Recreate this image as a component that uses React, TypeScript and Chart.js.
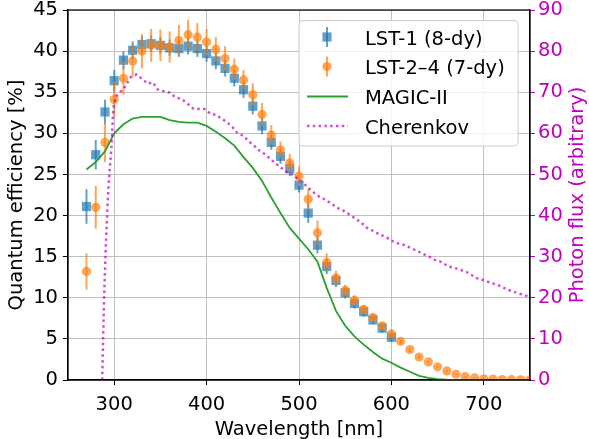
import React, { useEffect, useRef } from "react";
import { Chart, registerables } from "chart.js";
Chart.register(...registerables);

// ---------------- data ----------------
const SERIES_LABELS = ["LST-1 (8-dy)", "LST-2\u20134 (7-dy)", "MAGIC-II", "Cherenkov"];
const X_TICKS = [300, 400, 500, 600, 700];
const X_TITLE = "Wavelength [nm]";
const Y_TITLE = "Quantum efficiency [%]";
const Y1_TITLE = "Photon flux (arbitrary)";

const LST1_WL = [270, 280, 290, 300, 310, 320, 330, 340, 350, 360, 370, 380, 390, 400, 410, 420, 430, 440, 450, 460, 470, 480, 490, 500, 510, 520, 530, 540, 550, 560, 570, 580, 590, 600];
const LST1_QE = [21.1, 27.4, 32.6, 36.4, 38.9, 40.1, 40.8, 40.9, 40.7, 40.4, 40.3, 40.6, 40.3, 39.7, 38.8, 37.9, 36.7, 35.3, 33.3, 30.9, 28.9, 27.2, 25.7, 23.7, 20.3, 16.4, 13.8, 12.1, 10.6, 9.3, 8.3, 7.3, 6.3, 5.2];
const LST1_ERR = [2.1, 1.8, 1.5, 1.3, 1.1, 1.1, 1.0, 1.0, 1.0, 1.0, 1.0, 1.0, 1.0, 1.0, 1.0, 1.0, 1.0, 1.0, 1.0, 1.0, 0.9, 0.9, 0.9, 0.9, 1.2, 1.0, 0.9, 0.8, 0.7, 0.6, 0.6, 0.5, 0.5, 0.5];

const LST24_WL = [270, 280, 290, 300, 310, 320, 330, 340, 350, 360, 370, 380, 390, 400, 410, 420, 430, 440, 450, 460, 470, 480, 490, 500, 510, 520, 530, 540, 550, 560, 570, 580, 590, 600, 610, 620, 630, 640, 650, 660, 670, 680, 690, 700, 710, 720, 730, 740, 750];
const LST24_QE = [13.2, 21.0, 28.9, 34.1, 36.7, 38.8, 40.0, 40.7, 40.7, 40.5, 41.3, 42.0, 41.7, 41.1, 40.2, 39.1, 37.8, 36.5, 34.7, 32.3, 29.8, 28.0, 26.4, 24.8, 22.0, 17.9, 14.3, 12.4, 10.9, 9.7, 8.6, 7.6, 6.6, 5.6, 4.7, 3.7, 2.8, 2.2, 1.6, 1.1, 0.7, 0.4, 0.25, 0.15, 0.1, 0.06, 0.04, 0.03, 0.02];
const LST24_ERR = [2.2, 2.6, 2.4, 2.2, 2.0, 2.0, 2.1, 2.0, 1.9, 1.9, 1.9, 1.8, 1.7, 1.6, 1.5, 1.5, 1.3, 1.2, 1.4, 1.4, 1.2, 1.0, 1.1, 1.2, 1.3, 1.5, 1.1, 0.9, 0.7, 0.6, 0.5, 0.5, 0.4, 0.4, 0.3, 0.3, 0.25, 0.2, 0.2, 0.15, 0.1, 0.1, 0.05, 0.05, 0.0, 0.0, 0.0, 0.0, 0.0];

const MAGIC_WL = [270, 280, 290, 300, 310, 320, 330, 340, 350, 360, 370, 380, 390, 400, 410, 420, 430, 440, 450, 460, 470, 480, 490, 500, 510, 520, 530, 540, 550, 560, 570, 580, 590, 600, 610, 620, 630, 640, 650, 660, 670, 680, 690, 700];
const MAGIC_QE = [25.6, 26.5, 27.8, 30.0, 31.1, 31.8, 32.0, 32.0, 32.0, 31.6, 31.4, 31.3, 31.3, 30.9, 30.2, 29.4, 28.5, 27.1, 25.8, 24.2, 22.2, 20.3, 18.5, 17.2, 15.9, 14.4, 11.2, 8.4, 6.6, 5.3, 4.3, 3.4, 2.6, 2.1, 1.5, 1.0, 0.5, 0.25, 0.1, 0.04, 0.01, 0.0, 0.0, 0.0];

const CHER_WL = [287, 289, 291, 293, 295, 297, 299, 302, 306, 310, 318, 324, 330, 336, 342, 347, 353, 360, 366, 373, 379, 385, 392, 398, 404, 410, 416, 422, 428, 433, 440, 445, 451, 456, 462, 468, 474, 479, 486, 492, 498, 504, 510, 516, 522, 529, 535, 542, 548, 555, 561, 567, 573, 580, 587, 593, 600, 606, 613, 619, 627, 634, 641, 647, 653, 662, 671, 682, 692, 698, 707, 716, 727, 737, 746, 750];
const CHER_FLUX = [0, 19.5, 33, 43.8, 51, 56.5, 66, 69, 70, 70.7, 73.7, 74.3, 73.3, 72.1, 72.4, 70.7, 70.3, 69.9, 68.8, 68.3, 67.3, 66.1, 65.9, 65.9, 64.8, 64.5, 63.6, 62.7, 61.5, 60.2, 59.3, 58.2, 57.1, 56.0, 55.1, 54.0, 52.8, 51.9, 50.7, 50.1, 49.1, 48.0, 46.8, 45.6, 44.6, 43.8, 42.9, 41.8, 41.2, 40.2, 39.2, 38.4, 37.1, 36.3, 35.4, 34.9, 33.9, 33.3, 32.9, 32.3, 31.5, 30.7, 30.0, 29.2, 28.8, 27.6, 27.1, 26.2, 24.8, 24.4, 23.7, 23.0, 21.9, 21.1, 20.5, 20.2];

// ---------------- styles ----------------
const FONT = "DejaVu Sans";
const FS = 19.5;
const BLUE = "rgba(31,119,180,0.7)";
const ORANGE = "rgba(255,127,14,0.7)";
const GREEN = "#2ca02c";
const MAG = "rgba(191,0,191,0.7)";
const MAG_TEXT = "#bf00bf";
const GRID = "#c0c0c0";

const zip = (xs: number[], ys: number[]) => xs.map((x, i) => ({ x, y: ys[i] }));

const ERRS: Record<number, number[]> = { 0: LST1_ERR, 1: LST24_ERR };

const errorBarPlugin = {
  id: "errbars",
  beforeDatasetDraw(chart: any, args: any) {
    const errs = ERRS[args.index];
    if (!errs) return;
    const ds = chart.data.datasets[args.index];
    const { ctx, chartArea, scales } = chart;
    ctx.save();
    ctx.beginPath();
    ctx.rect(chartArea.left, chartArea.top, chartArea.right - chartArea.left, chartArea.bottom - chartArea.top);
    ctx.clip();
    ctx.strokeStyle = ds.backgroundColor;
    ctx.lineWidth = 2;
    ds.data.forEach((p: any, i: number) => {
      const e = errs[i];
      if (!e) return;
      const x = scales.x.getPixelForValue(p.x);
      const y0 = scales.y.getPixelForValue(p.y - e);
      const y1 = scales.y.getPixelForValue(p.y + e);
      ctx.beginPath();
      ctx.moveTo(x, y0);
      ctx.lineTo(x, y1);
      ctx.stroke();
    });
    ctx.restore();
  },
};

const framePlugin = {
  id: "frame",
  afterDatasetsDraw(chart: any) {
    const { ctx, chartArea: a } = chart;
    ctx.save();
    ctx.strokeStyle = "#000";
    ctx.lineWidth = 1.2;
    ctx.strokeRect(a.left, a.top, a.right - a.left, a.bottom - a.top);
    ctx.restore();
  },
};

const rightTitlePlugin = {
  id: "rightTitle",
  afterDraw(chart: any) {
    const { ctx, chartArea: a } = chart;
    const s = chart.scales.y1;
    ctx.save();
    ctx.translate(s.right - 11, (a.top + a.bottom) / 2);
    ctx.rotate(-Math.PI / 2);
    ctx.fillStyle = MAG_TEXT;
    ctx.font = `${FS}px "${FONT}"`;
    ctx.textAlign = "center";
    ctx.textBaseline = "middle";
    ctx.fillText(Y1_TITLE, 0, 0);
    ctx.restore();
  },
};

const legendPlugin = {
  id: "customLegend",
  afterDraw(chart: any) {
    const { ctx } = chart;
    const bx = 299, by = 20.5, bw = 219, bh = 125.5, r = 4;
    ctx.save();
    ctx.beginPath();
    ctx.moveTo(bx + r, by);
    ctx.arcTo(bx + bw, by, bx + bw, by + bh, r);
    ctx.arcTo(bx + bw, by + bh, bx, by + bh, r);
    ctx.arcTo(bx, by + bh, bx, by, r);
    ctx.arcTo(bx, by, bx + bw, by, r);
    ctx.closePath();
    ctx.fillStyle = "rgba(255,255,255,0.8)";
    ctx.fill();
    ctx.strokeStyle = "#cccccc";
    ctx.lineWidth = 1;
    ctx.stroke();

    const rows = [37, 66.5, 96.5, 126];
    const hx = 327;
    ctx.strokeStyle = BLUE;
    ctx.lineWidth = 2;
    ctx.beginPath(); ctx.moveTo(hx, rows[0] - 10); ctx.lineTo(hx, rows[0] + 10); ctx.stroke();
    ctx.fillStyle = BLUE;
    ctx.fillRect(hx - 4.6, rows[0] - 4.6, 9.2, 9.2);
    ctx.strokeStyle = ORANGE;
    ctx.beginPath(); ctx.moveTo(hx, rows[1] - 10); ctx.lineTo(hx, rows[1] + 10); ctx.stroke();
    ctx.fillStyle = ORANGE;
    ctx.beginPath(); ctx.arc(hx, rows[1], 4.6, 0, Math.PI * 2); ctx.fill();
    ctx.strokeStyle = GREEN;
    ctx.lineWidth = 2;
    ctx.beginPath(); ctx.moveTo(307, rows[2]); ctx.lineTo(348, rows[2]); ctx.stroke();
    ctx.strokeStyle = MAG;
    ctx.lineWidth = 2.5;
    ctx.setLineDash([2.5, 3.3]);
    ctx.beginPath(); ctx.moveTo(307, rows[3]); ctx.lineTo(348, rows[3]); ctx.stroke();
    ctx.setLineDash([]);

    ctx.fillStyle = "#000";
    ctx.font = `${FS}px "${FONT}"`;
    ctx.textBaseline = "alphabetic";
    ctx.textAlign = "left";
    SERIES_LABELS.forEach((t, i) => ctx.fillText(t, 365, rows[i] + 7.5));
    ctx.restore();
  },
};

export default function App() {
  const ref = useRef<HTMLCanvasElement>(null);
  useEffect(() => {
    if (!ref.current) return;
    const chart = new Chart(ref.current, {
      type: "scatter",
      data: {
        datasets: [
          {
            label: SERIES_LABELS[0],
            data: zip(LST1_WL, LST1_QE),
            backgroundColor: BLUE,
            borderColor: BLUE,
            borderWidth: 0,
            pointStyle: "rect",
            pointRadius: 6.5,
            showLine: false,
            order: 3,
            yAxisID: "y",
          } as any,
          {
            label: SERIES_LABELS[1],
            data: zip(LST24_WL, LST24_QE),
            backgroundColor: ORANGE,
            borderColor: ORANGE,
            borderWidth: 0,
            pointStyle: "circle",
            pointRadius: 4.6,
            showLine: false,
            order: 2,
            yAxisID: "y",
          },
          {
            label: SERIES_LABELS[2],
            data: zip(MAGIC_WL, MAGIC_QE),
            borderColor: GREEN,
            backgroundColor: GREEN,
            borderWidth: 1.8,
            pointRadius: 0,
            showLine: true,
            tension: 0,
            order: 1,
            yAxisID: "y",
          },
          {
            label: SERIES_LABELS[3],
            data: zip(CHER_WL, CHER_FLUX),
            borderColor: MAG,
            backgroundColor: MAG,
            borderWidth: 2.5,
            borderDash: [2.5, 3.3],
            pointRadius: 0,
            showLine: true,
            tension: 0,
            order: 0,
            yAxisID: "y1",
          },
        ],
      },
      options: {
        animation: false,
        responsive: false,
        devicePixelRatio: 1,
        layout: { padding: { top: 10, left: 0, right: 0, bottom: 0 } },
        plugins: { legend: { display: false }, tooltip: { enabled: false } },
        scales: {
          x: {
            type: "linear",
            position: "bottom",
            min: 250,
            max: 750,
            afterBuildTicks: (s: any) => {
              s.ticks = X_TICKS.map((v) => ({ value: v }));
            },
            afterFit: (s: any) => {
              s.height = 59;
              s.paddingLeft = 0;
              s.paddingRight = 0;
            },
            ticks: { font: { family: FONT, size: FS }, color: "#000", padding: 8, maxRotation: 0, autoSkip: false },
            grid: { color: GRID, lineWidth: 1, tickColor: "#000", tickLength: 5 },
            border: { display: true, color: "#000", width: 1.2 },
            title: { display: true, text: X_TITLE, font: { family: FONT, size: FS }, color: "#000", padding: { top: 0, bottom: -3 } },
          },
          y: {
            type: "linear",
            position: "left",
            min: 0,
            max: 45,
            ticks: { stepSize: 5, font: { family: FONT, size: FS }, color: "#000", padding: 5 },
            afterFit: (s: any) => {
              s.width = 68;
              s.paddingTop = 0;
              s.paddingBottom = 0;
            },
            grid: { color: GRID, lineWidth: 1, tickColor: "#000", tickLength: 5 },
            border: { display: true, color: "#000", width: 1.2 },
            title: { display: true, text: Y_TITLE, font: { family: FONT, size: FS }, color: "#000", padding: { top: 5, bottom: 0 } },
          },
          y1: {
            type: "linear",
            position: "right",
            min: 0,
            max: 90,
            ticks: { stepSize: 10, font: { family: FONT, size: FS }, color: MAG_TEXT, padding: 3 },
            afterFit: (s: any) => {
              s.width = 59;
              s.paddingTop = 0;
              s.paddingBottom = 0;
            },
            grid: { drawOnChartArea: false, tickColor: MAG_TEXT, tickLength: 5 },
            border: { display: true, color: "#000", width: 1.2 },
            title: { display: false },
          },
        },
      },
      plugins: [errorBarPlugin, framePlugin, rightTitlePlugin, legendPlugin],
    } as any);
    return () => chart.destroy();
  }, []);
  return (
    <div style={{ position: "fixed", left: 0, top: 0, width: 589, height: 439, background: "#fff" }}>
      <canvas ref={ref} width={589} height={439} style={{ display: "block", width: 589, height: 439 }} />
    </div>
  );
}
